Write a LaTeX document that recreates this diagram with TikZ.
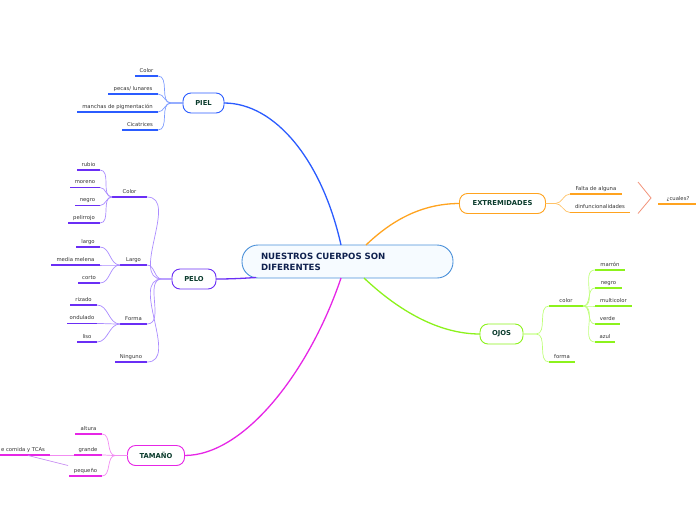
\documentclass[tikz,border=0pt]{standalone}
\usepackage{fontspec}
\setmainfont{DejaVu Sans}
\definecolor{txtgray}{HTML}{333333}
\definecolor{topicgreen}{HTML}{0A3B2C}
\definecolor{navy}{HTML}{10224F}
\definecolor{cblue}{HTML}{4A90D9}
\definecolor{cfill}{HTML}{F6FBFF}
\definecolor{pielc}{HTML}{2B5CFF}
\definecolor{pielb}{HTML}{7E9CFF}
\definecolor{peloc}{HTML}{6A2EF5}
\definecolor{pelob}{HTML}{AB8CFF}
\definecolor{tamc}{HTML}{E626E6}
\definecolor{tamb}{HTML}{F28CF2}
\definecolor{relc}{HTML}{C68AF2}
\definecolor{extc}{HTML}{FFA31F}
\definecolor{extb}{HTML}{FFC266}
\definecolor{salmon}{HTML}{F2937A}
\definecolor{ojoc}{HTML}{8CF21C}
\definecolor{ojob}{HTML}{BFFF7A}
\tikzset{
  lbl/.style={font=\fontsize{5.3}{6}\selectfont, text=txtgray, inner xsep=0pt,
    inner ysep=2.6pt, anchor=south, text height=3.8pt, text depth=1pt, outer sep=0pt},
  ul/.style={line width=1.8pt, draw=#1},
  br/.style={line width=0.7pt, draw=#1},
  mainc/.style={line width=1.3pt, draw=#1},
  topic/.style={draw=#1, line width=0.9pt, rounded corners=8pt, fill=white,
    font=\bfseries\fontsize{6.8}{8}\selectfont, text=topicgreen, minimum height=20pt,
    inner sep=0pt, outer sep=0pt},
}
\newcommand\leaf[6]{%
  \node[lbl, minimum width={#3-#2}] (#1) at ({(#2+#3)/2},#4) {#5};
  \draw[ul=#6] (#1.south west) -- (#1.south east);}
\begin{document}
\begin{tikzpicture}[x=1pt,y=-1pt]
\useasboundingbox (0,0) rectangle (696,520);

% central node
\node[draw=cblue, line width=0.9pt, fill=cfill, rounded corners=16pt,
  minimum width=211pt, minimum height=33pt, text width=173pt, inner xsep=19pt,
  inner ysep=0pt, align=left, text=navy,
  font=\bfseries\fontsize{8.6}{11}\selectfont] (C) at (347.5,261.5)
  {NUESTROS CUERPOS SON\\DIFERENTES};

% topics
\node[topic=pielc, minimum width=41pt] (PIEL) at (203.5,103) {PIEL};
\node[topic=peloc, minimum width=44pt] (PELO) at (194,279) {PELO};
\node[topic=tamc, minimum width=57pt] (TAM) at (156,455.5) {TAMAÑO};
\node[topic=extc, minimum width=86pt] (EXT) at (502.5,203.5) {EXTREMIDADES};
\node[topic=ojoc, minimum width=43pt] (OJOS) at (501.5,334) {OJOS};

% main connectors
\coordinate (cA) at (341,245);
\coordinate (cB) at (256,277.5);
\coordinate (cC) at (341,278);
\coordinate (cD) at (366,245);
\coordinate (cE) at (364,278);
\draw[mainc=pielc] (cA) .. controls (322,160) and (275,103) .. (PIEL.east);
\draw[mainc=peloc] (cB) .. controls (240,278.5) and (230,279) .. (PELO.east);
\draw[mainc=tamc] (cC) .. controls (310,370) and (245,455.5) .. (TAM.east);
\draw[mainc=extc] (cD) .. controls (390,222) and (420,203.5) .. (EXT.west);
\draw[mainc=ojoc] (cE) .. controls (400,312) and (440,334) .. (OJOS.west);

% PIEL
\leaf{p1}{135}{158}{76}{Color}{pielc}
\leaf{p2}{108}{158}{94}{pecas/ lunares}{pielc}
\leaf{p3}{77}{158}{112}{manchas de pigmentación}{pielc}
\leaf{p4}{122}{158}{130}{Cicatrices}{pielc}
\foreach \n in {p1,p2,p3,p4}
  \draw[br=pielb] (PIEL.west) -- +(-12,0) to[out=180,in=0] (\n.south east);

% PELO
\leaf{hc}{112}{147}{197}{Color}{peloc}
\leaf{hl}{120}{147}{265}{Largo}{peloc}
\leaf{hf}{120}{147}{324}{Forma}{peloc}
\leaf{hn}{115}{147}{362}{Ninguno}{peloc}
\foreach \n in {hc,hl,hf,hn}
  \draw[br=pelob] (PELO.west) -- +(-10,0) to[out=180,in=0] (\n.south east);
\leaf{hc1}{77}{100}{170}{rubio}{peloc}
\leaf{hc2}{70}{100}{187.5}{moreno}{peloc}
\leaf{hc3}{75}{100}{205.5}{negro}{peloc}
\leaf{hc4}{68}{100}{223}{pelirrojo}{peloc}
\foreach \n in {hc1,hc2,hc3,hc4}
  \draw[br=pelob] (hc.south west) to[out=180,in=0] (\n.south east);
\leaf{hl1}{76}{100}{247}{largo}{peloc}
\leaf{hl2}{51}{100}{265}{media melena}{peloc}
\leaf{hl3}{78}{100}{283}{corto}{peloc}
\foreach \n in {hl1,hl2,hl3}
  \draw[br=pelob] (hl.south west) to[out=180,in=0] (\n.south east);
\leaf{hf1}{70}{97}{305}{rizado}{peloc}
\leaf{hf2}{67}{97}{323.5}{ondulado}{peloc}
\leaf{hf3}{77}{97}{342}{liso}{peloc}
\foreach \n in {hf1,hf2,hf3}
  \draw[br=pelob] (hf.south west) to[out=180,in=0] (\n.south east);

% TAMAÑO
\leaf{t1}{75}{102}{434}{altura}{tamc}
\leaf{t2}{74}{102}{455}{grande}{tamc}
\leaf{t3}{69}{102}{476}{pequeño}{tamc}
\foreach \n in {t1,t2,t3}
  \draw[br=tamb] (TAM.west) -- +(-12,0) to[out=180,in=0] (\n.south east);
\leaf{tc}{-4}{50}{455}{e comida y TCAs}{tamc}
\draw[br=tamb] (t2.south west) -- (tc.south east);
\coordinate (r1) at (28,455.5);
\coordinate (r2) at (68,465.5);
\draw[line width=0.7pt, draw=relc] (r1) -- (r2);

% EXTREMIDADES
\leaf{e1}{570}{622}{194}{Falta de alguna}{extc}
\leaf{e2}{570}{630}{212.5}{dinfuncionalidades}{extc}
\foreach \n in {e1,e2}
  \draw[br=extb] (EXT.east) -- +(10,0) to[out=0,in=180] (\n.south west);
\coordinate (s1) at (638,182);
\coordinate (s2) at (651,198);
\coordinate (s3) at (638,213.5);
\draw[line width=0.8pt, draw=salmon] (s1) -- (s2) -- (s3);
\leaf{e3}{658}{698}{204}{¿cuales?}{extc}

% OJOS
\leaf{o1}{549}{583}{306}{color}{ojoc}
\leaf{o2}{549}{575}{362}{forma}{ojoc}
\foreach \n in {o1,o2}
  \draw[br=ojob] (OJOS.east) -- +(13,0) to[out=0,in=180] (\n.south west);
\leaf{o11}{595}{625}{270}{marrón}{ojoc}
\leaf{o12}{595}{622}{288}{negro}{ojoc}
\leaf{o13}{595}{632}{306}{multicolor}{ojoc}
\leaf{o14}{595}{620}{324}{verde}{ojoc}
\leaf{o15}{595}{615}{342}{azul}{ojoc}
\foreach \n in {o11,o12,o13,o14,o15}
  \draw[br=ojob] (o1.south east) to[out=0,in=180] (\n.south west);
\end{tikzpicture}
\end{document}
